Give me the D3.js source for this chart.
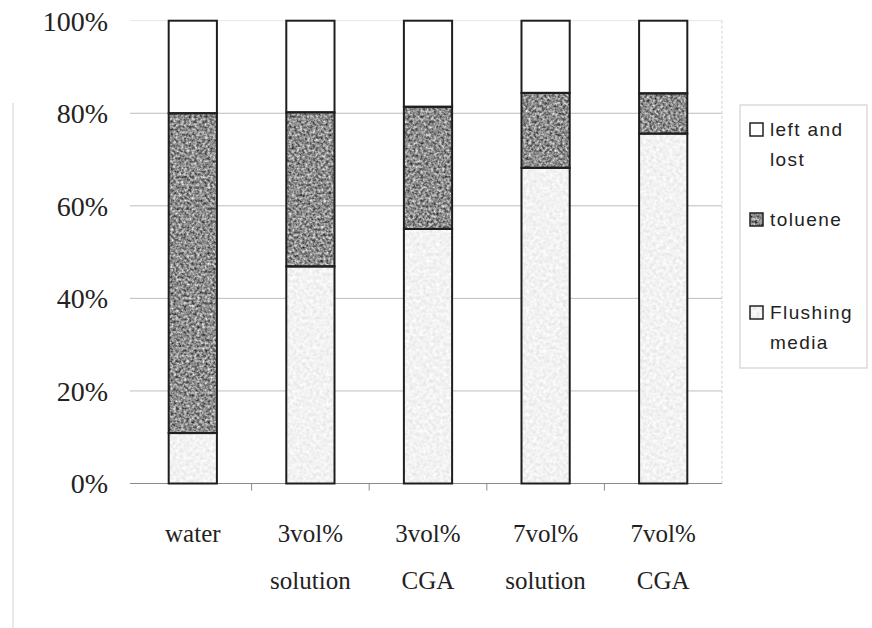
<!DOCTYPE html>
<html>
<head>
<meta charset="utf-8">
<script src="https://cdn.jsdelivr.net/npm/d3@7"></script>
<style>
  html, body { margin: 0; padding: 0; background: #fff; }
  svg { display: block; }
  .serif { font-family: "Liberation Serif", "Times New Roman", serif; }
  .sans { font-family: "Liberation Sans", Arial, sans-serif; }
</style>
</head>
<body>
<svg id="chart" width="872" height="628"></svg>
<script>
// Category labels (two lines each) and the three stacked shares, in percent
const categories = ["water", "3vol% solution", "3vol% CGA", "7vol% solution", "7vol% CGA"];
const categoryLines = [["water"], ["3vol%", "solution"], ["3vol%", "CGA"], ["7vol%", "solution"], ["7vol%", "CGA"]];
const flushingMedia = [10.9, 46.9, 55.0, 68.2, 75.6];
const toluene = [69.1, 33.3, 26.4, 16.2, 8.7];
const leftAndLost = flushingMedia.map((f, i) => +(100 - f - toluene[i]).toFixed(1));
const yTicks = [0, 20, 40, 60, 80, 100];
const yTickLabels = ["0%", "20%", "40%", "60%", "80%", "100%"];
const seriesKeys = ["flushing", "toluene", "left"];
const legendEntries = [
  { key: "left", lines: ["left and", "lost"] },
  { key: "toluene", lines: ["toluene"] },
  { key: "flushing", lines: ["Flushing", "media"] }
];

const svg = d3.select("#chart");
const plot = { left: 134, right: 722, top: 20.7, bottom: 483.5 };

const x = d3.scaleBand().domain(categories).range([plot.left, plot.right])
  .paddingInner(0.59).paddingOuter(0.295);
const y = d3.scaleLinear().domain([0, 100]).range([plot.bottom, plot.top]);

// Speckled fills for the shaded segments
const defs = svg.append("defs");
function stipple(id, scale, offset, freq) {
  const f = defs.append("filter").attr("id", id)
    .attr("x", 0).attr("y", 0).attr("width", 1).attr("height", 1)
    .attr("color-interpolation-filters", "sRGB");
  f.append("feTurbulence").attr("type", "fractalNoise")
    .attr("baseFrequency", freq).attr("numOctaves", 2).attr("seed", 7).attr("result", "noise");
  f.append("feColorMatrix").attr("in", "noise").attr("type", "matrix")
    .attr("values", `${scale} 0 0 0 ${offset}  ${scale} 0 0 0 ${offset}  ${scale} 0 0 0 ${offset}  0 0 0 0 1`)
    .attr("result", "gray");
  f.append("feComposite").attr("in", "gray").attr("in2", "SourceGraphic").attr("operator", "in");
}
stipple("speckDark", 1.1, 0.0, 0.38);
stipple("speckLight", 0.16, 0.87, 0.3);

const fills = {
  left: { fill: "#ffffff", filter: null },
  toluene: { fill: "#8c8c8c", filter: "url(#speckDark)" },
  flushing: { fill: "#f3f3f3", filter: "url(#speckLight)" }
};

// faint page edge at the left
svg.append("line").attr("x1", 13).attr("x2", 13).attr("y1", 103).attr("y2", 628)
  .attr("stroke", "#e2e2e2").attr("stroke-width", 1.5);

// horizontal gridlines
svg.append("g").selectAll("line").data(yTicks.filter(d => d > 0)).join("line")
  .attr("x1", plot.left - 4).attr("x2", plot.right)
  .attr("y1", d => y(d)).attr("y2", d => y(d))
  .attr("stroke", d => d === 100 ? "#e6e6e6" : "#bdbdbd").attr("stroke-width", 1);

// right edge of the plot area
svg.append("line").attr("x1", plot.right).attr("x2", plot.right)
  .attr("y1", plot.top).attr("y2", plot.bottom)
  .attr("stroke", "#d4d4d4").attr("stroke-dasharray", "3,2");

// y labels
svg.append("g").attr("class", "serif").selectAll("text").data(yTicks).join("text")
  .attr("x", 108).attr("y", d => y(d)).attr("dy", "0.35em")
  .attr("text-anchor", "end")
  .attr("font-size", 28).attr("fill", "#222")
  .text((d, i) => yTickLabels[i]);

// x axis line and ticks at category boundaries
const xAxisG = svg.append("g");
xAxisG.append("line").attr("x1", plot.left - 4).attr("x2", plot.right)
  .attr("y1", plot.bottom).attr("y2", plot.bottom)
  .attr("stroke", "#8a8a8a").attr("stroke-width", 1.2);
const step = x.step();
const boundaries = d3.range(1, categories.length).map(k => plot.left + k * step);
xAxisG.selectAll("line.tick").data(boundaries).join("line").attr("class", "tick")
  .attr("x1", d => d).attr("x2", d => d)
  .attr("y1", plot.bottom).attr("y2", plot.bottom + 7)
  .attr("stroke", "#8a8a8a");

// stacked bars
const rows = categories.map((c, i) => ({
  category: c, flushing: flushingMedia[i], toluene: toluene[i], left: leftAndLost[i]
}));
const stacked = d3.stack().keys(seriesKeys)(rows);

const barsG = svg.append("g");
stacked.forEach(layer => {
  const st = fills[layer.key];
  barsG.append("g").selectAll("rect.fill").data(layer).join("rect").attr("class", "fill")
    .attr("x", d => x(d.data.category)).attr("width", x.bandwidth())
    .attr("y", d => y(d[1])).attr("height", d => y(d[0]) - y(d[1]))
    .attr("fill", st.fill)
    .attr("filter", st.filter);
});
stacked.forEach(layer => {
  barsG.append("g").selectAll("rect.edge").data(layer).join("rect").attr("class", "edge")
    .attr("x", d => x(d.data.category)).attr("width", x.bandwidth())
    .attr("y", d => y(d[1])).attr("height", d => y(d[0]) - y(d[1]))
    .attr("fill", "none").attr("stroke", "#1e1e1e").attr("stroke-width", 2);
});

// category labels
const labG = svg.append("g").attr("class", "serif")
  .attr("font-size", 25).attr("fill", "#222").attr("text-anchor", "middle");
categories.forEach((c, i) => {
  categoryLines[i].forEach((line, j) => {
    labG.append("text")
      .attr("x", x(c) + x.bandwidth() / 2)
      .attr("y", 542 + j * 47)
      .text(line);
  });
});

// legend
const legend = svg.append("g");
legend.append("rect").attr("x", 740).attr("y", 105).attr("width", 127).attr("height", 263)
  .attr("fill", "#fff").attr("stroke", "#d2d2d2").attr("stroke-width", 1.2);
const legendBase = { left: 136, toluene: 226, flushing: 319 };
legendEntries.forEach(e => {
  const base = legendBase[e.key];
  const st = fills[e.key];
  legend.append("rect").attr("x", 750).attr("y", base - 13).attr("width", 13).attr("height", 13)
    .attr("fill", st.fill).attr("filter", st.filter);
  legend.append("rect").attr("x", 750).attr("y", base - 13).attr("width", 13).attr("height", 13)
    .attr("fill", "none").attr("stroke", "#222").attr("stroke-width", 1.5);
  e.lines.forEach((line, j) => {
    legend.append("text").attr("class", "sans")
      .attr("x", 770).attr("y", base + j * 30)
      .attr("font-size", 19).attr("letter-spacing", 1.4).attr("fill", "#222")
      .text(line);
  });
});
</script>
</body>
</html>
